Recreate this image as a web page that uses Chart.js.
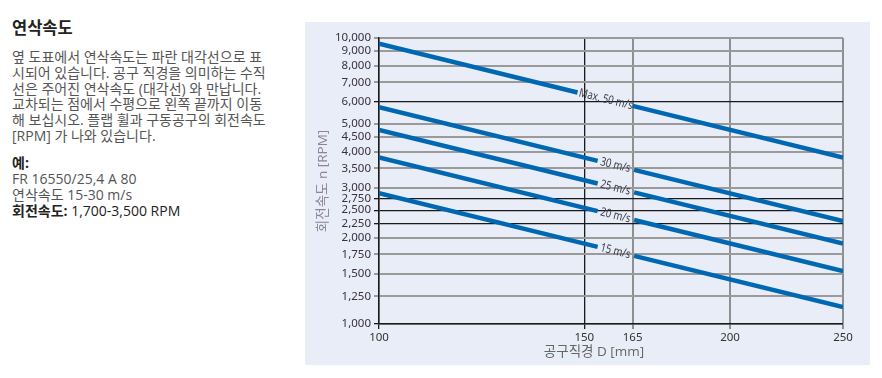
<!DOCTYPE html>
<html lang="ko">
<head>
  <meta charset="UTF-8">
  <title>연삭속도</title>
  <script src="https://cdn.jsdelivr.net/npm/chart.js"></script>
  <style>
    body { margin: 0; background: #fff; font-family: "Open Sans", "Noto Sans CJK KR", sans-serif; }
    #text { position: absolute; left: 12px; top: 0; width: 290px; color: #555; font-size: 14px; }
    #text h2 { position: absolute; top: 15px; left: 0; margin: 0; font-size: 16.5px; color: #222; font-weight: bold; white-space: nowrap; font-family: "Noto Sans CJK KR", sans-serif; }
    #para { position: absolute; top: 49px; left: 0; line-height: 15.8px; white-space: nowrap; }
    #example { position: absolute; top: 155px; left: 0; line-height: 16px; white-space: nowrap; }
    .dark { color: #222; }
    #box { position: absolute; left: 305px; top: 22px; width: 565px; height: 343px; background: #e9edf7; }
  </style>
</head>
<body>
  <div id="text">
    <h2>연삭속도</h2>
    <div id="para">
      옆 도표에서 연삭속도는 파란 대각선으로 표<br>
      시되어 있습니다. 공구 직경을 의미하는 수직<br>
      선은 주어진 연삭속도 (대각선) 와 만납니다.<br>
      교차되는 점에서 수평으로 왼쪽 끝까지 이동<br>
      해 보십시오. 플랩 휠과 구동공구의 회전속도<br>
      [RPM] 가 나와 있습니다.
    </div>
    <div id="example">
      <b class="dark">예:</b><br>
      FR 16550/25,4 A 80<br>
      연삭속도 15-30 m/s<br>
      <span class="dark"><b>회전속도:</b> 1,700-3,500 RPM</span>
    </div>
  </div>
  <div id="box"><canvas id="speedChart"></canvas></div>

  <script>
    // speed lines: start (D=100), gap around the label, end (D=250)
    const speeds = ['Max. 50 m/s', '30 m/s', '25 m/s', '20 m/s', '15 m/s'];
    const rpmAt100 = [9550, 5730, 4775, 3820, 2865];
    const gapStartD = [148, 154, 154, 154, 154];
    const rpmAtGapStart = [6450, 3720, 3100, 2480, 1860];
    const gapEndD = [165, 165.5, 165.5, 165.5, 165.5];
    const rpmAtGapEnd = [5790, 3460, 2885, 2310, 1730];
    const rpmAt250 = [3820, 2290, 1910, 1530, 1145];
    const labelD = [156.5, 159.5, 159.5, 159.5, 159.5];
    const labelRpm = [6100, 3590, 2995, 2395, 1795];

    const xTicks = [100, 150, 165, 200, 250];
    const yTicks = [1000, 1250, 1500, 1750, 2000, 2250, 2500, 2750, 3000, 3500, 4000, 4500, 5000, 6000, 7000, 8000, 9000, 10000];
    const darkX = [100, 150];
    const darkY = [1000, 2250, 2500, 2750, 6000];

    const lineBlue = '#0068b3';
    const tickFont = '"Noto Sans", sans-serif';

    const datasets = speeds.map((s, i) => ({
      label: s,
      data: [
        { x: 100, y: rpmAt100[i] },
        { x: gapStartD[i], y: rpmAtGapStart[i] },
        { x: (gapStartD[i] + gapEndD[i]) / 2, y: null },
        { x: gapEndD[i], y: rpmAtGapEnd[i] },
        { x: 250, y: rpmAt250[i] }
      ],
      borderColor: lineBlue,
      borderWidth: 4.5,
      pointRadius: 0,
      spanGaps: false,
      tension: 0
    }));

    const labelPlugin = {
      id: 'speedLabels',
      afterDatasetsDraw(chart) {
        const xs = chart.scales.x, ys = chart.scales.y, c = chart.ctx;
        c.save();
        c.font = '12px "Noto Sans", sans-serif';
        c.fillStyle = '#3a3a48';
        c.textAlign = 'center';
        c.textBaseline = 'middle';
        speeds.forEach((s, i) => {
          const x1 = xs.getPixelForValue(100), y1 = ys.getPixelForValue(rpmAt100[i]);
          const x2 = xs.getPixelForValue(250), y2 = ys.getPixelForValue(rpmAt250[i]);
          const ang = Math.atan2(y2 - y1, x2 - x1);
          c.save();
          c.translate(xs.getPixelForValue(labelD[i]), ys.getPixelForValue(labelRpm[i]));
          c.rotate(ang);
          c.scale(0.8, 1);
          c.fillText(s, 0, 0);
          c.restore();
        });
        c.restore();
      },
      afterDraw(chart) {
        const a = chart.chartArea, c = chart.ctx;
        c.save();
        c.font = '13.5px "Open Sans", "Noto Sans CJK KR", sans-serif';
        c.textAlign = 'center';
        c.textBaseline = 'middle';
        c.fillStyle = '#666';
        c.fillText('공구직경 D [mm]', a.left + 215, a.bottom + 28);
        c.translate(18, (a.top + a.bottom) / 2);
        c.rotate(-Math.PI / 2);
        c.fillStyle = '#8c8496';
        c.fillText('회전속도 n [RPM]', 0, 0);
        c.restore();
      }
    };

    const ctx = document.getElementById('speedChart').getContext('2d');
    new Chart(ctx, {
      type: 'line',
      data: { datasets: datasets },
      plugins: [labelPlugin],
      options: {
        responsive: true,
        maintainAspectRatio: false,
        animation: false,
        layout: { padding: { top: 16, right: 27, left: 0, bottom: 0 } },
        plugins: { legend: { display: false }, tooltip: { enabled: false } },
        scales: {
          x: {
            type: 'logarithmic',
            min: 100,
            max: 250,
            afterBuildTicks: (scale) => { scale.ticks = xTicks.map(v => ({ value: v })); },
            afterFit: (scale) => { scale.height = 41; },
            ticks: {
              autoSkip: false,
              maxRotation: 0,
              padding: 2,
              color: '#333',
              font: { family: tickFont, size: 11.5 },
              callback: (v) => String(v)
            },
            grid: {
              color: (c) => darkX.includes(c.tick && c.tick.value) ? '#1a1a1a' : '#8f8f8f',
              lineWidth: (c) => darkX.includes(c.tick && c.tick.value) ? 1.3 : 2,
              tickLength: 5
            },
            border: { color: '#1a1a1a', width: 1.5 }
          },
          y: {
            type: 'logarithmic',
            min: 1000,
            max: 10000,
            afterBuildTicks: (scale) => { scale.ticks = yTicks.map(v => ({ value: v })); },
            afterFit: (scale) => { scale.width = 74; },
            ticks: {
              autoSkip: false,
              padding: 3,
              color: '#3a3040',
              font: { family: tickFont, size: 11.5 },
              callback: (v) => Number(v).toLocaleString('en-US')
            },
            grid: {
              color: (c) => darkY.includes(c.tick && c.tick.value) ? '#1a1a1a' : '#9a9a9a',
              lineWidth: (c) => darkY.includes(c.tick && c.tick.value) ? 1.3 : 2,
              tickLength: 5
            },
            border: { color: '#1a1a1a', width: 1.5 }
          }
        }
      }
    });
  </script>
</body>
</html>
